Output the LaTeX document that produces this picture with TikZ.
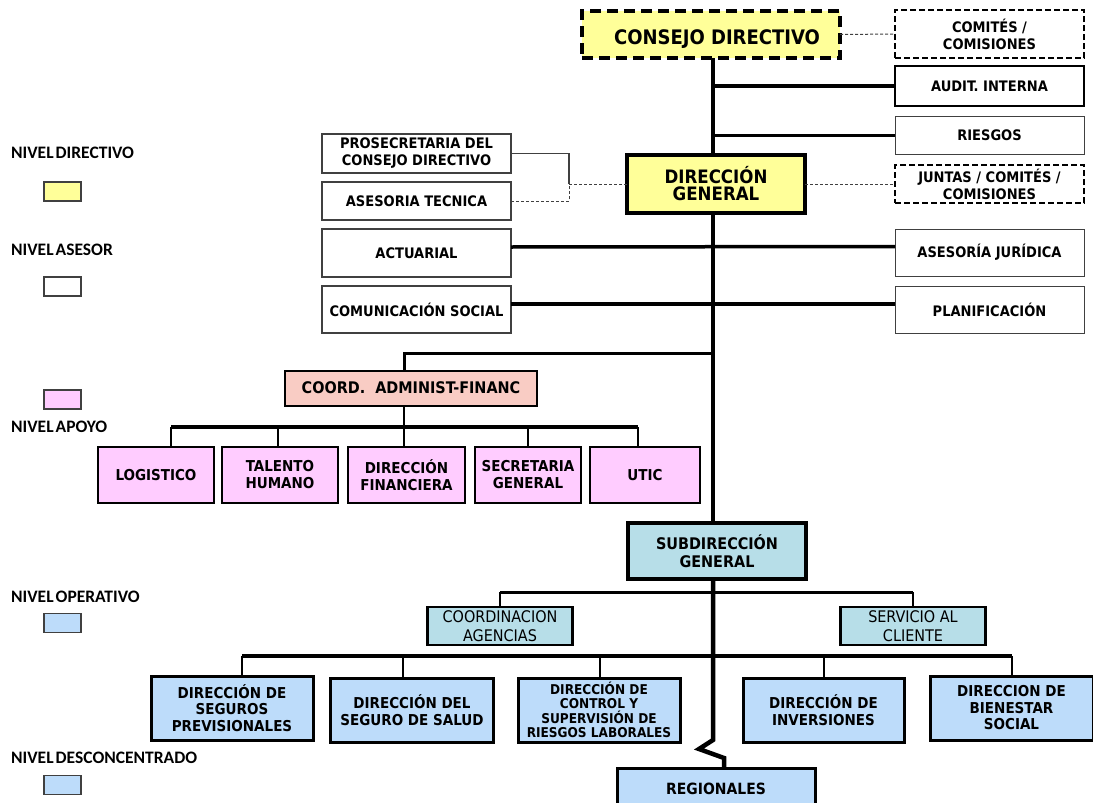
\documentclass[tikz,border=0pt]{standalone}
\usepackage{fontspec}
\setmainfont{DejaVu Sans Condensed}
\newfontfamily\legfont{Carlito}
\definecolor{dirY}{HTML}{FFFF99}
\definecolor{apoyoP}{HTML}{FFCCFF}
\definecolor{coordS}{HTML}{F9CCC4}
\definecolor{subT}{HTML}{B7DEE8}
\definecolor{opB}{HTML}{BDDCFA}
\definecolor{edgeG}{HTML}{404040}
\begin{document}
\begin{tikzpicture}[x=1pt,y=-1pt,
  ob/.style={draw, rectangle, inner sep=0pt, outer sep=0pt, align=center, fill=white,
    font=\bfseries\fontsize{14.5}{17}\selectfont},
  asbox/.style={ob, draw=edgeG, line width=1.3pt, minimum width=189pt},
  rtbox/.style={ob, line width=2.5pt, minimum width=189pt},
  dshbox/.style={ob, line width=2pt, dash pattern=on 6pt off 3pt, minimum width=189pt},
  pinkbox/.style={ob, line width=2pt, fill=apoyoP, minimum height=56pt,
    font=\bfseries\fontsize{15}{17}\selectfont},
  opbox/.style={ob, line width=3pt, fill=opB, minimum height=64pt,
    font=\bfseries\fontsize{15}{16.5}\selectfont},
  tealbox/.style={ob, line width=2.5pt, fill=subT, minimum width=145pt, minimum height=38pt,
    font=\fontsize{16}{19.5}\selectfont},
  trunk/.style={line width=4.5pt},
  branch/.style={line width=3.5pt},
  drop/.style={line width=2.5pt},
  dashcon/.style={line width=1pt, draw=edgeG, dash pattern=on 3pt off 2pt},
  thincon/.style={line width=1.2pt, draw=edgeG},
  swatch/.style={draw=edgeG, line width=1.2pt, minimum width=37pt, minimum height=19pt, inner sep=0pt},
  legtext/.style={anchor=west, inner sep=0pt, font=\legfont\bfseries\fontsize{17.5}{19}\selectfont}
]
\path[use as bounding box, fill=white] (0,0) rectangle (1093,803);

% ---------- legend ----------
\node[legtext] (l1) at (11,153) {NIVEL\hspace{2pt}DIRECTIVO};
\node[swatch, fill=dirY] (s1) at (62.5,191.5) {};
\node[legtext] (l2) at (11,250) {NIVEL\hspace{2pt}ASESOR};
\node[swatch, fill=white] (s2) at (62.5,286.5) {};
\node[swatch, fill=apoyoP] (s3) at (62.5,399.5) {};
\node[legtext] (l3) at (11,427) {NIVEL\hspace{2pt}APOYO};
\node[legtext] (l4) at (11,597) {NIVEL\hspace{2pt}OPERATIVO};
\node[swatch, fill=opB] (s4) at (62.5,623) {};
\node[legtext] (l5) at (11,758) {NIVEL\hspace{2pt}DESCONCENTRADO};
\node[swatch, fill=opB] (s5) at (62.5,785) {};

% ---------- coordinates ----------
\coordinate (tx) at (713,0);
\coordinate (pj) at (569,184);
\coordinate (cn) at (404,353);
\coordinate (b1) at (171,427);
\coordinate (b2) at (278,427);
\coordinate (b3) at (404,427);
\coordinate (b4) at (528,427);
\coordinate (b5) at (638,427);
\coordinate (bb2) at (0,592);
\coordinate (d1) at (242,656);
\coordinate (d2) at (403,656);
\coordinate (d3) at (600,656);
\coordinate (d4) at (824,656);
\coordinate (d5) at (1012,656);
\coordinate (z1) at (713,740);
\coordinate (z2) at (699,749);
\coordinate (z3) at (724,758);
\coordinate (z4) at (716,768);

% ---------- nodes ----------
\node[ob, line width=4pt, dash pattern=on 11pt off 6pt, fill=dirY, minimum width=258pt, minimum height=47pt,
  font=\bfseries\fontsize{20}{22}\selectfont] (consejo) at (711,34.5)
  {\hspace*{12pt}\raisebox{-5pt}[\height][\depth]{CONSEJO DIRECTIVO}};
\node[dshbox, minimum height=48pt] (comites) at (989.5,34) {COMITÉS /\\COMISIONES};
\node[rtbox, minimum height=40pt] (audit) at (989.5,86) {AUDIT. INTERNA};
\node[ob, draw=edgeG, line width=1pt, minimum width=189pt, minimum height=38pt] (riesgos) at (989.5,135.5) {RIESGOS};
\node[ob, line width=4pt, fill=dirY, minimum width=178pt, minimum height=58pt,
  font=\bfseries\fontsize{18.5}{17}\selectfont] (dg) at (716,184) {DIRECCIÓN\\GENERAL};
\node[dshbox, minimum height=38pt] (juntas) at (989.5,184) {JUNTAS / COMITÉS /\\COMISIONES};
\node[asbox, minimum height=39pt] (prosec) at (416.5,153.5) {PROSECRETARIA DEL\\CONSEJO DIRECTIVO};
\node[asbox, minimum height=38pt] (asesor) at (416.5,201) {ASESORIA TECNICA};
\node[asbox, minimum height=48pt] (actuarial) at (416.5,253) {ACTUARIAL};
\node[asbox, minimum height=47pt] (comunic) at (416.5,309.5) {COMUNICACIÓN SOCIAL};
\node[ob, draw=edgeG, line width=1pt, minimum width=189pt, minimum height=47pt] (juridica) at (989.5,252.5) {ASESORÍA JURÍDICA};
\node[ob, draw=edgeG, line width=1pt, minimum width=189pt, minimum height=47pt] (planif) at (989.5,309.5) {PLANIFICACIÓN};
\node[ob, line width=2pt, fill=coordS, minimum width=252pt, minimum height=35pt,
  font=\bfseries\fontsize{16}{17}\selectfont] (coord) at (411,388) {COORD.\ \ ADMINIST-FINANC};
\node[pinkbox, minimum width=116pt] (logistico) at (156,475) {LOGISTICO};
\node[pinkbox, minimum width=116pt] (talento) at (280,475) {TALENTO\\HUMANO};
\node[pinkbox, minimum width=117pt] (dirfin) at (406.5,475) {DIRECCIÓN\\FINANCIERA};
\node[pinkbox, minimum width=106pt] (secretaria) at (528,475) {SECRETARIA\\GENERAL};
\node[pinkbox, minimum width=110pt] (utic) at (645,475) {UTIC};
\node[ob, line width=4pt, fill=subT, minimum width=178pt, minimum height=56pt,
  font=\bfseries\fontsize{16}{18}\selectfont] (subdir) at (717,551) {SUBDIRECCIÓN\\GENERAL};
\node[tealbox] (coordag) at (500,626) {COORDINACION\\AGENCIAS};
\node[tealbox] (servicio) at (913,626) {SERVICIO AL\\CLIENTE};
\node[opbox, minimum width=162pt] (seguros) at (232,708) {DIRECCIÓN DE\\SEGUROS\\PREVISIONALES};
\node[opbox, minimum width=163pt] (salud) at (412,710) {DIRECCIÓN DEL\\SEGURO DE SALUD};
\node[opbox, minimum width=162pt, font=\bfseries\fontsize{13.5}{14.5}\selectfont] (control) at (599,710)
  {DIRECCIÓN DE\\CONTROL Y\\SUPERVISIÓN DE\\RIESGOS LABORALES};
\node[opbox, minimum width=161pt] (inversiones) at (823.5,710) {DIRECCIÓN DE\\INVERSIONES};
\node[opbox, minimum width=163pt] (bienestar) at (1011.5,708) {DIRECCION DE\\BIENESTAR\\SOCIAL};
\node[ob, line width=3pt, fill=opB, minimum width=198pt, minimum height=42pt,
  font=\bfseries\fontsize{15.5}{17}\selectfont] (regionales) at (716,789) {REGIONALES};

% ---------- connectors ----------
\draw[trunk] (consejo.south -| tx) -- (dg.north -| tx);
\draw[trunk] (dg.south -| tx) -- (subdir.north -| tx);
\draw[trunk] (subdir.south -| tx) -- (z1) -- (z2) -- (z3) -- (z3 |- regionales.north);
\draw[branch] (tx |- audit.west) -- (audit.west);
\draw[branch] (tx |- riesgos.west) -- (riesgos.west);
\draw[branch] ([yshift=6pt]actuarial.east) -- ([yshift=6pt]juridica.west);
\draw[branch] ([yshift=5.5pt]comunic.east) -- ([yshift=5.5pt]planif.west);
\draw[dashcon] (consejo.east) -- (comites.west);
\draw[dashcon] (dg.east) -- (juntas.west);
\draw[thincon] (prosec.east) -| (pj);
\draw[dashcon] (pj) -- (pj -| dg.west);
\draw[dashcon] (asesor.east) -| (pj);
\draw[line width=3pt] (tx |- cn) -- (cn) -- (cn |- coord.north);
\draw[drop] (cn |- coord.south) -- (b3);
\draw[branch] (b1) -- (b5);
\draw[drop] (b1) -- (b1 |- logistico.north);
\draw[drop] (b2) -- (b2 |- talento.north);
\draw[drop] (b3) -- (b3 |- dirfin.north);
\draw[drop] (b4) -- (b4 |- secretaria.north);
\draw[drop] (b5) -- (b5 |- utic.north);
\draw[line width=3pt] (coordag.north |- bb2) -- (servicio.north |- bb2);
\draw[line width=2pt] (coordag.north |- bb2) -- (coordag.north);
\draw[line width=2pt] (servicio.north |- bb2) -- (servicio.north);
\draw[line width=4pt] (d1) -- (d5);
\draw[drop] (d1) -- (d1 |- seguros.north);
\draw[drop] (d2) -- (d2 |- salud.north);
\draw[drop] (d3) -- (d3 |- control.north);
\draw[drop] (d4) -- (d4 |- inversiones.north);
\draw[drop] (d5) -- (d5 |- bienestar.north);
\end{tikzpicture}
\end{document}
